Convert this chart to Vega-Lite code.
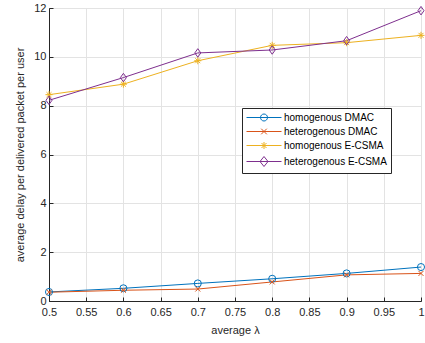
{
  "$schema": "https://vega.github.io/schema/vega-lite/v6.json",
  "width": 372,
  "height": 293,
  "autosize": {"type": "none"},
  "padding": {"left": 49, "top": 8, "right": 4, "bottom": 42},
  "config": {
    "font": "Liberation Sans",
    "view": {"stroke": "#262626", "strokeWidth": 1},
    "axis": {"gridColor": "#e3e3e3", "domainColor": "#262626", "tickColor": "#262626", "labelColor": "#262626", "titleColor": "#262626", "labelFontSize": 11, "titleFontSize": 11, "titleFontWeight": "normal", "labelFont": "Liberation Sans", "titleFont": "Liberation Sans", "labelFlush": false}
  },
  "data": {"values": [
    {"lambda": 0.5, "delay": 0.37, "series": "homogenous DMAC"},
    {"lambda": 0.6, "delay": 0.52, "series": "homogenous DMAC"},
    {"lambda": 0.7, "delay": 0.72, "series": "homogenous DMAC"},
    {"lambda": 0.8, "delay": 0.91, "series": "homogenous DMAC"},
    {"lambda": 0.9, "delay": 1.13, "series": "homogenous DMAC"},
    {"lambda": 1.0, "delay": 1.39, "series": "homogenous DMAC"},
    {"lambda": 0.5, "delay": 0.36, "series": "heterogenous DMAC"},
    {"lambda": 0.6, "delay": 0.44, "series": "heterogenous DMAC"},
    {"lambda": 0.7, "delay": 0.49, "series": "heterogenous DMAC"},
    {"lambda": 0.8, "delay": 0.78, "series": "heterogenous DMAC"},
    {"lambda": 0.9, "delay": 1.07, "series": "heterogenous DMAC"},
    {"lambda": 1.0, "delay": 1.13, "series": "heterogenous DMAC"},
    {"lambda": 0.5, "delay": 8.45, "series": "homogenous E-CSMA"},
    {"lambda": 0.6, "delay": 8.88, "series": "homogenous E-CSMA"},
    {"lambda": 0.7, "delay": 9.84, "series": "homogenous E-CSMA"},
    {"lambda": 0.8, "delay": 10.47, "series": "homogenous E-CSMA"},
    {"lambda": 0.9, "delay": 10.58, "series": "homogenous E-CSMA"},
    {"lambda": 1.0, "delay": 10.88, "series": "homogenous E-CSMA"},
    {"lambda": 0.5, "delay": 8.22, "series": "heterogenous E-CSMA"},
    {"lambda": 0.6, "delay": 9.15, "series": "heterogenous E-CSMA"},
    {"lambda": 0.7, "delay": 10.16, "series": "heterogenous E-CSMA"},
    {"lambda": 0.8, "delay": 10.28, "series": "heterogenous E-CSMA"},
    {"lambda": 0.9, "delay": 10.66, "series": "heterogenous E-CSMA"},
    {"lambda": 1.0, "delay": 11.89, "series": "heterogenous E-CSMA"}
  ]},
  "encoding": {
    "x": {"field": "lambda", "type": "quantitative", "scale": {"domain": [0.5, 1], "nice": false},
      "axis": {"title": "average λ", "values": [0.5, 0.55, 0.6, 0.65, 0.7, 0.75, 0.8, 0.85, 0.9, 0.95, 1], "format": "", "tickSize": -4, "labelPadding": 9, "titlePadding": 7}},
    "y": {"field": "delay", "type": "quantitative", "scale": {"domain": [0, 12], "nice": false},
      "axis": {"title": "average delay per delivered packet per user", "values": [0, 2, 4, 6, 8, 10, 12], "tickSize": -4, "labelPadding": 7, "titlePadding": 8}},
    "color": {"field": "series", "type": "nominal", "scale": {"domain": ["homogenous DMAC", "heterogenous DMAC", "homogenous E-CSMA", "heterogenous E-CSMA"], "range": ["#0072BD", "#D95319", "#EDB120", "#7E2F8E"]}, "legend": null}
  },
  "layer": [
    {
      "mark": {"type": "line", "strokeWidth": 1},
      "encoding": {
        "color": {"field": "series", "type": "nominal",
          "legend": {"title": null, "orient": "none", "legendX": 193, "legendY": 100, "symbolSize": 100, "symbolStrokeWidth": 1, "symbolOpacity": 1, "labelFontSize": 10, "labelFont": "Liberation Sans", "labelColor": "#000000", "strokeColor": "#262626", "fillColor": "#ffffff", "padding": 4, "rowPadding": 3, "labelOffset": 27,
            "encode": {"symbols": {"update": {
              "fill": {"value": "transparent"},
              "shape": {"signal": "datum.value === 'homogenous DMAC' ? 'M-1,0L6,0M1.8,0A0.7,0.7 0 1,0 3.2,0A0.7,0.7 0 1,0 1.8,0' : datum.value === 'heterogenous DMAC' ? 'M-1,0L6,0M1.94,-0.56L3.06,0.56M1.94,0.56L3.06,-0.56' : datum.value === 'homogenous E-CSMA' ? 'M-1,0L6,0M2.5,-0.7L2.5,0.7M2,-0.5L3,0.5M2,0.5L3,-0.5' : 'M-1,0L6,0M2.5,-1L3.3,0L2.5,1L1.7,0Z'"}
            }}}}}
      }
    },
    {
      "transform": [{"filter": "datum.series === 'homogenous DMAC'"}],
      "mark": {"type": "point", "filled": false, "size": 50, "strokeWidth": 1, "opacity": 1, "shape": "circle"}
    },
    {
      "transform": [{"filter": "datum.series === 'heterogenous DMAC'"}],
      "mark": {"type": "point", "filled": false, "size": 50, "strokeWidth": 1, "opacity": 1, "shape": "M-0.7,-0.7L0.7,0.7M-0.7,0.7L0.7,-0.7"}
    },
    {
      "transform": [{"filter": "datum.series === 'homogenous E-CSMA'"}],
      "mark": {"type": "point", "filled": false, "size": 50, "strokeWidth": 1, "opacity": 1, "shape": "M-1,0L1,0M0,-1L0,1M-0.7,-0.7L0.7,0.7M-0.7,0.7L0.7,-0.7"}
    },
    {
      "transform": [{"filter": "datum.series === 'heterogenous E-CSMA'"}],
      "mark": {"type": "point", "filled": false, "size": 50, "strokeWidth": 1, "opacity": 1, "shape": "M0,-1.2L0.85,0L0,1.2L-0.85,0Z"}
    }
  ]
}
